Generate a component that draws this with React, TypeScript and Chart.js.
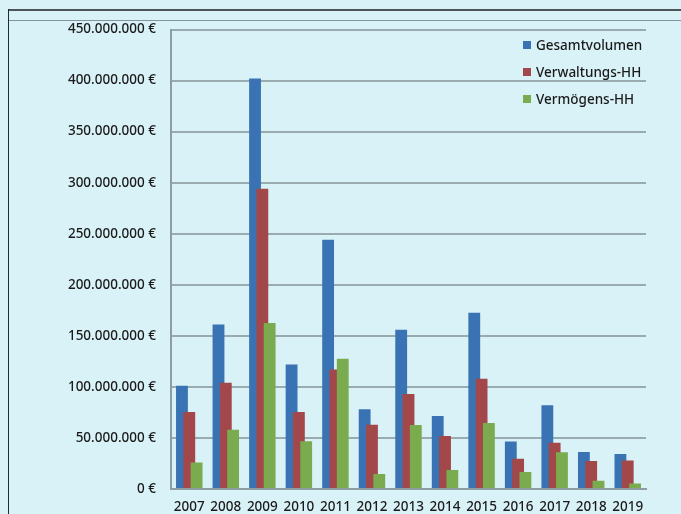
import React, { useEffect, useRef } from 'react';
import { Chart, registerables } from 'chart.js';

Chart.register(...registerables);

const years = ['2007', '2008', '2009', '2010', '2011', '2012', '2013', '2014', '2015', '2016', '2017', '2018', '2019'];
const gesamtvolumen = [101e6, 161e6, 402e6, 122e6, 244e6, 78e6, 156e6, 71.6e6, 172.5e6, 46.4e6, 82e6, 36.3e6, 34.3e6];
const verwaltungsHH = [75.5e6, 104e6, 294e6, 75.5e6, 117e6, 63e6, 93e6, 52e6, 108e6, 29.7e6, 45.4e6, 27.5e6, 28e6];
const vermoegensHH = [26e6, 58e6, 162.5e6, 46.7e6, 127.5e6, 14.7e6, 62.7e6, 18.6e6, 64.7e6, 16.7e6, 36e6, 8e6, 5.5e6];
const seriesNames = ['Gesamtvolumen', 'Verwaltungs-HH', 'Vermögens-HH'];
const seriesColors = ['#3a73b3', '#a2484a', '#7bab4f'];
const yMax = 450e6;
const yStep = 50e6;

const FONT = '"Noto Sans", "DejaVu Sans", sans-serif';
const TEXT = '#1a1a1a';
const BG = '#d9f2f7';

function euro(v: number): string {
  return String(Math.round(v)).replace(/\B(?=(\d{3})+(?!\d))/g, '.') + ' €';
}

const drawOrderPlugin = {
  id: 'drawOrder',
  beforeDatasetsDraw(chart: any) {
    const metas = chart.getSortedVisibleDatasetMetas();
    for (const m of metas) chart._drawDataset(m);
    return false;
  },
};

export default function App() {
  const ref = useRef<HTMLCanvasElement | null>(null);

  useEffect(() => {
    if (!ref.current) return;
    const data = [gesamtvolumen, verwaltungsHH, vermoegensHH];
    const chart = new Chart(ref.current, {
      type: 'bar',
      data: {
        labels: years,
        datasets: data.map((d, i) => ({
          label: seriesNames[i],
          data: d,
          backgroundColor: seriesColors[i],
          borderWidth: 0,
          categoryPercentage: 0.6,
          barPercentage: 1.62,
        })),
      },
      options: {
        responsive: false,
        animation: false,
        maintainAspectRatio: false,
        layout: { padding: { left: 0, right: 35, top: 29.5, bottom: 0 } },
        plugins: {
          legend: { display: false },
          tooltip: { enabled: false },
        },
        scales: {
          x: {
            grid: { display: false, drawTicks: false },
            border: { display: true, color: '#8d9da1', width: 2 },
            ticks: {
              color: TEXT,
              font: { family: FONT, size: 13.5, weight: '500' },
              padding: 10,
              maxRotation: 0,
              autoSkip: false,
            },
            afterFit: (s: any) => { s.height = 25; },
          },
          y: {
            min: 0,
            max: yMax,
            grid: { color: '#9aabb0', lineWidth: 2, drawTicks: false },
            border: { display: true, color: '#8d9da1', width: 2 },
            ticks: {
              stepSize: yStep,
              color: TEXT,
              font: { family: FONT, size: 13.5, weight: '500' },
              padding: 15,
              callback: (v: any) => euro(Number(v)),
            },
            afterFit: (s: any) => { s.width = 171; },
          },
        },
      },
      plugins: [drawOrderPlugin],
    } as any);
    return () => chart.destroy();
  }, []);

  return (
    <div style={{ position: 'fixed', left: 0, top: 0, width: 681, height: 514, background: BG, overflow: 'hidden' }}>
      <div style={{ position: 'absolute', left: 8, top: 9, width: 673, height: 1.6, background: '#4b5659' }} />
      <div style={{ position: 'absolute', left: 8, top: 20, width: 673, height: 1, background: '#8495a0' }} />
      <div style={{ position: 'absolute', left: 8, top: 9, width: 1.4, height: 505, background: '#222a2c' }} />
      <canvas ref={ref} width={681} height={514} style={{ position: 'absolute', left: 0, top: 0, width: 681, height: 514 }} />
      <div style={{ position: 'absolute', left: 523, top: 31, fontFamily: FONT, fontSize: 13.5, fontWeight: 500, color: TEXT }}>
        {seriesNames.map((n, i) => (
          <div key={n} style={{ display: 'flex', alignItems: 'center', height: 27.3, whiteSpace: 'nowrap' }}>
            <span style={{ display: 'inline-block', width: 8, height: 8, background: seriesColors[i], marginRight: 5 }} />
            <span>{n}</span>
          </div>
        ))}
      </div>
    </div>
  );
}
